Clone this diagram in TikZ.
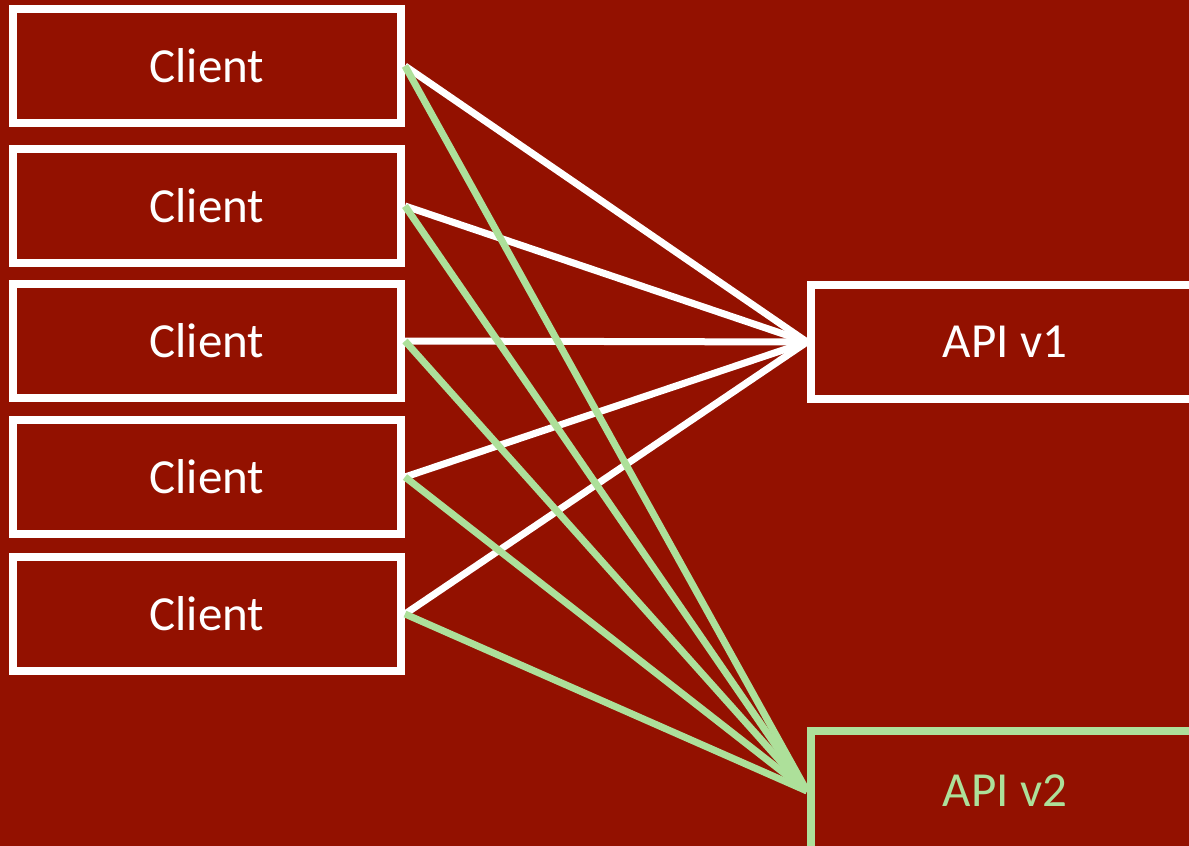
\documentclass[tikz,border=0pt]{standalone}
\usepackage{fontspec}
\setmainfont{Carlito}
\usetikzlibrary{positioning}
\definecolor{apired}{RGB}{147,17,0}
\definecolor{apigreen}{RGB}{173,224,154}
\tikzset{
  box/.style={draw=white,line width=8pt,minimum width=388pt,minimum height=114pt,
              text=white,font=\fontsize{49}{58}\selectfont},
  newbox/.style={box,draw=apigreen,text=apigreen,minimum height=120pt},
  oldlink/.style={white,line width=7pt},
  newlink/.style={apigreen,line width=7pt}
}

\begin{document}
\begin{tikzpicture}[x=1pt,y=-1pt]
\useasboundingbox[fill=apired] (0,0) rectangle (1189,846);

% clients on the left
\foreach \i/\y in {1/66,2/206,3/341,4/477,5/614}
  \node[box] (client\i) at (207,\y) {Client};

% the two api versions
\node[box] (apione) at (1005,342) {API v1};
\node[newbox] (apitwo) at (1005,791) {API v2};

\foreach \i in {1,...,5}
  \draw[oldlink] (client\i.east) -- (apione.west);
\foreach \i in {1,...,5}
  \draw[newlink] (client\i.east) -- (apitwo.west);
\end{tikzpicture}
\end{document}
